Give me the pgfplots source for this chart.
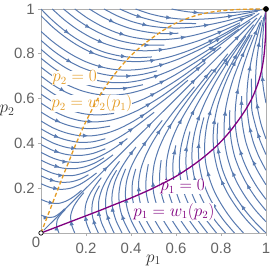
\documentclass[border=0pt]{standalone}
\usepackage{pgfplots}
\pgfplotsset{compat=1.18}
\usepackage{pgfplotstable}
\usepackage{fontspec}
\setmainfont{Liberation Sans}
\usetikzlibrary{calc,decorations.markings,arrows.meta}
\definecolor{sc}{RGB}{88,122,176}
\definecolor{oc}{RGB}{228,155,35}
\definecolor{pc}{RGB}{128,0,128}
\definecolor{tc}{RGB}{100,100,100}
\definecolor{fc}{RGB}{175,175,175}
\newcommand\tl{\fontsize{15}{17}\selectfont}
\newcommand\nlf{\fontsize{16}{18}\selectfont}

\pgfplotsset{sline/.style={color=sc, line width=1.0bp, smooth},
  sarrow/.style={color=sc, draw=none, sharp plot, postaction={decorate},
  decoration={markings, mark=between positions 0.3 and 1 step 62bp with {\arrow[sc]{Latex[length=5bp,width=4.2bp]}}}}}
\newcommand\pair[1]{\addplot[sline] table[x=a,y=b]{#1};\addplot[sline] table[x=b,y=a]{#1};%
  \addplot[sarrow] table[x=a,y=b]{#1};\addplot[sarrow] table[x=b,y=a]{#1};}

% nullcline p2 = w2(p1)  (mirror gives p1 = w1(p2))
\pgfplotstableread[row sep=\\]{a b\\ 0 0\\ 0.025 0.065\\ 0.05 0.13\\ 0.075 0.195\\ 0.1 0.26\\ 0.125 0.322\\ 0.15 0.385\\ 0.175 0.443\\ 0.2 0.498\\ 0.25 0.595\\ 0.3 0.672\\ 0.35 0.737\\ 0.4 0.792\\ 0.45 0.837\\ 0.5 0.875\\ 0.55 0.909\\ 0.6 0.937\\ 0.65 0.958\\ 0.7 0.974\\ 0.75 0.985\\ 0.8 0.992\\ 0.85 0.996\\ 0.9 0.999\\ 1 1\\}\nc

% streamlines above the diagonal (mirrored below)
\pgfplotstableread[row sep=\\]{a b\\ 0.58 1\\ 0.649 0.988\\ 0.719 0.982\\ 0.789 0.982\\ 0.859 0.985\\ 0.929 0.990\\ 0.985 0.997\\}\tA
\pgfplotstableread[row sep=\\]{a b\\ 0.42 1\\ 0.486 0.978\\ 0.554 0.963\\ 0.624 0.955\\ 0.694 0.954\\ 0.764 0.958\\ 0.833 0.967\\ 0.902 0.979\\ 0.96 0.99\\}\tB
\pgfplotstableread[row sep=\\]{a b\\ 0.35 1\\ 0.414 0.973\\ 0.481 0.953\\ 0.550 0.937\\ 0.619 0.936\\ 0.689 0.935\\}\tC
\pgfplotstableread[row sep=\\]{a b\\ 0.28 1\\ 0.342 0.968\\ 0.407 0.943\\ 0.475 0.926\\ 0.544 0.917\\ 0.614 0.915\\ 0.684 0.920\\ 0.753 0.931\\ 0.821 0.946\\ 0.889 0.964\\ 0.95 0.98\\}\tD
\pgfplotstableread[row sep=\\]{a b\\ 0.215 1\\ 0.275 0.964\\ 0.338 0.934\\ 0.404 0.911\\ 0.472 0.897\\ 0.541 0.890\\ 0.611 0.892\\}\tE
\pgfplotstableread[row sep=\\]{a b\\ 0.15 1\\ 0.207 0.959\\ 0.268 0.924\\ 0.332 0.896\\ 0.399 0.876\\ 0.468 0.865\\ 0.538 0.863\\ 0.608 0.869\\ 0.677 0.882\\ 0.745 0.900\\ 0.811 0.922\\ 0.876 0.947\\ 0.94 0.973\\}\tF
\pgfplotstableread[row sep=\\]{a b\\ 0.10 1\\ 0.155 0.956\\ 0.213 0.918\\ 0.275 0.886\\ 0.341 0.861\\ 0.409 0.846\\ 0.478 0.839\\ 0.548 0.839\\}\tG
\pgfplotstableread[row sep=\\]{a b\\ 0.05 1\\ 0.102 0.953\\ 0.158 0.911\\ 0.218 0.875\\ 0.282 0.846\\ 0.349 0.826\\ 0.418 0.815\\ 0.488 0.814\\ 0.558 0.821\\ 0.626 0.836\\ 0.693 0.856\\ 0.758 0.881\\ 0.822 0.909\\ 0.885 0.939\\}\tH
\pgfplotstableread[row sep=\\]{a b\\ 0 1\\ 0.049 0.951\\ 0.102 0.906\\ 0.159 0.866\\ 0.220 0.832\\ 0.285 0.806\\ 0.353 0.790\\ 0.423 0.783\\ 0.493 0.786\\}\tI
\pgfplotstableread[row sep=\\]{a b\\ 0 0.97\\ 0.05 0.921\\ 0.104 0.877\\ 0.162 0.838\\ 0.224 0.806\\ 0.290 0.783\\ 0.359 0.769\\ 0.429 0.765\\ 0.499 0.771\\ 0.567 0.785\\ 0.634 0.806\\ 0.699 0.832\\ 0.762 0.862\\ 0.824 0.895\\ 0.885 0.930\\}\tJ
\pgfplotstableread[row sep=\\]{a b\\ 0 0.9\\ 0.045 0.86\\ 0.093 0.824\\ 0.144 0.792\\ 0.198 0.765\\ 0.255 0.745\\ 0.313 0.732\\ 0.373 0.727\\ 0.433 0.730\\ 0.492 0.739\\ 0.55 0.755\\ 0.607 0.775\\ 0.662 0.799\\ 0.716 0.825\\ 0.769 0.854\\ 0.821 0.884\\ 0.872 0.916\\ 0.922 0.948\\ 0.97 0.98\\}\tK
\pgfplotstableread[row sep=\\]{a b\\ 0 0.86\\ 0.054 0.814\\ 0.112 0.774\\ 0.175 0.741\\ 0.241 0.717\\ 0.310 0.703\\ 0.380 0.700\\ 0.449 0.708\\ 0.516 0.724\\}\tL
\pgfplotstableread[row sep=\\]{a b\\ 0 0.82\\ 0.054 0.775\\ 0.112 0.736\\ 0.175 0.705\\ 0.241 0.683\\ 0.310 0.672\\ 0.380 0.672\\ 0.449 0.683\\ 0.516 0.702\\ 0.581 0.728\\ 0.644 0.759\\ 0.705 0.794\\ 0.764 0.831\\ 0.822 0.870\\ 0.879 0.910\\}\tM
\pgfplotstableread[row sep=\\]{a b\\ 0 0.78\\ 0.055 0.737\\ 0.114 0.699\\ 0.178 0.670\\ 0.245 0.651\\ 0.315 0.644\\ 0.385 0.648\\ 0.453 0.662\\}\tN
\pgfplotstableread[row sep=\\]{a b\\ 0 0.74\\ 0.056 0.698\\ 0.116 0.662\\ 0.181 0.635\\ 0.249 0.619\\ 0.319 0.615\\ 0.389 0.623\\ 0.457 0.641\\ 0.522 0.667\\ 0.584 0.699\\ 0.644 0.735\\ 0.703 0.773\\ 0.760 0.813\\ 0.816 0.855\\ 0.87 0.898\\ 0.93 0.945\\}\tO
\pgfplotstableread[row sep=\\]{a b\\ 0 0.70\\ 0.057 0.659\\ 0.118 0.625\\ 0.184 0.601\\ 0.252 0.588\\ 0.322 0.587\\ 0.391 0.599\\}\tP
\pgfplotstableread[row sep=\\]{a b\\ 0 0.66\\ 0.058 0.620\\ 0.120 0.588\\ 0.186 0.566\\ 0.255 0.556\\ 0.325 0.559\\ 0.393 0.574\\ 0.458 0.599\\ 0.520 0.631\\ 0.580 0.667\\ 0.638 0.706\\ 0.694 0.747\\ 0.749 0.790\\ 0.80 0.83\\}\tQ
\pgfplotstableread[row sep=\\]{a b\\ 0 0.62\\ 0.058 0.582\\ 0.12 0.552\\ 0.186 0.533\\ 0.255 0.527\\ 0.325 0.534\\}\tR
\pgfplotstableread[row sep=\\]{a b\\ 0 0.58\\ 0.055 0.545\\ 0.114 0.518\\ 0.177 0.501\\ 0.242 0.496\\ 0.307 0.503\\ 0.369 0.521\\ 0.429 0.547\\ 0.486 0.579\\ 0.541 0.614\\ 0.606 0.661\\ 0.669 0.710\\ 0.731 0.761\\}\tS
\pgfplotstableread[row sep=\\]{a b\\ 0 0.54\\ 0.055 0.507\\ 0.114 0.483\\ 0.177 0.468\\ 0.242 0.467\\ 0.307 0.477\\}\tT
\pgfplotstableread[row sep=\\]{a b\\ 0 0.5\\ 0.052 0.470\\ 0.108 0.448\\ 0.167 0.435\\ 0.227 0.434\\ 0.286 0.444\\ 0.343 0.464\\ 0.397 0.491\\ 0.448 0.522\\ 0.497 0.556\\ 0.545 0.592\\ 0.592 0.630\\ 0.653 0.682\\}\tU
\pgfplotstableread[row sep=\\]{a b\\ 0 0.465\\ 0.053 0.436\\ 0.11 0.416\\ 0.169 0.405\\ 0.229 0.407\\ 0.286 0.421\\}\tV
\pgfplotstableread[row sep=\\]{a b\\ 0 0.43\\ 0.053 0.402\\ 0.110 0.383\\ 0.169 0.375\\ 0.229 0.380\\ 0.286 0.397\\ 0.340 0.423\\ 0.391 0.455\\ 0.440 0.490\\ 0.503 0.539\\}\tW
\pgfplotstableread[row sep=\\]{a b\\ 0 0.395\\ 0.054 0.368\\ 0.111 0.351\\ 0.171 0.346\\ 0.230 0.355\\ 0.286 0.376\\}\tX
\pgfplotstableread[row sep=\\]{a b\\ 0 0.36\\ 0.054 0.334\\ 0.112 0.318\\ 0.172 0.316\\ 0.230 0.329\\ 0.285 0.354\\ 0.336 0.386\\ 0.384 0.422\\}\tY
\pgfplotstableread[row sep=\\]{a b\\ 0 0.325\\ 0.046 0.304\\ 0.095 0.29\\ 0.145 0.287\\ 0.193 0.295\\ 0.238 0.312\\ 0.28 0.336\\}\tZ
\pgfplotstableread[row sep=\\]{a b\\ 0 0.29\\ 0.046 0.269\\ 0.095 0.257\\ 0.145 0.257\\ 0.193 0.270\\ 0.238 0.292\\ 0.280 0.319\\ 0.320 0.349\\}\tAa
\pgfplotstableread[row sep=\\]{a b\\ 0 0.255\\ 0.042 0.237\\ 0.086 0.227\\ 0.131 0.228\\ 0.173 0.24\\ 0.211 0.26\\}\tAb
\pgfplotstableread[row sep=\\]{a b\\ 0 0.22\\ 0.042 0.203\\ 0.086 0.195\\ 0.131 0.200\\ 0.173 0.217\\ 0.211 0.241\\ 0.247 0.268\\}\tAc
\pgfplotstableread[row sep=\\]{a b\\ 0 0.15\\ 0.037 0.136\\ 0.077 0.132\\ 0.115 0.144\\ 0.149 0.165\\ 0.180 0.190\\}\tAe
\pgfplotstableread[row sep=\\]{a b\\ 0 0.08\\ 0.028 0.070\\ 0.058 0.072\\ 0.083 0.088\\ 0.105 0.108\\}\tAg

\begin{document}
\begin{tikzpicture}
\begin{axis}[name=ax, scale only axis, width=225bp, height=224bp,
  xmin=0, xmax=1, ymin=0, ymax=1,
  xtick={0.2,0.4,0.6,0.8,1}, ytick={0.2,0.4,0.6,0.8,1},
  xticklabels={}, yticklabels={},
  tick align=outside, xtick pos=left, ytick pos=left, major tick length=3bp,
  tick style={fc, line width=0.7bp}, axis line style={fc, line width=0.8bp}]
\pair{\tA}\pair{\tB}\pair{\tC}\pair{\tD}\pair{\tE}\pair{\tF}\pair{\tG}\pair{\tH}\pair{\tI}
\pair{\tJ}\pair{\tK}\pair{\tL}\pair{\tM}\pair{\tN}\pair{\tO}\pair{\tP}\pair{\tQ}\pair{\tR}
\pair{\tS}\pair{\tT}\pair{\tU}\pair{\tV}\pair{\tW}\pair{\tX}\pair{\tY}\pair{\tZ}
\pair{\tAa}\pair{\tAb}\pair{\tAc}\pair{\tAe}\pair{\tAg}
\addplot[sline] coordinates {(0.012,0.012) (0.5,0.5) (0.96,0.96)};
\addplot[sarrow] coordinates {(0.012,0.012) (0.5,0.5) (0.96,0.96)};
\node[anchor=west, text=oc, fill=white, inner sep=0bp, font=\nlf] at (axis cs:0.05,0.692) {$\dot{p}_2=0$};
\node[anchor=west, text=oc, fill=white, inner sep=0bp, font=\nlf] at (axis cs:0.045,0.578) {$p_2=w_2(p_1)$};
\node[anchor=west, text=pc, fill=white, inner sep=0bp, font=\nlf] at (axis cs:0.53,0.206) {$\dot{p}_1=0$};
\node[anchor=west, text=pc, fill=white, inner sep=0bp, font=\nlf] at (axis cs:0.41,0.094) {$p_1=w_1(p_2)$};
\addplot[oc, line width=1.3bp, dash pattern=on 4bp off 2.5bp, smooth] table[x=a,y=b]{\nc};
\addplot[pc, line width=1.3bp, smooth] table[x=b,y=a]{\nc};
\addplot[only marks, mark=*, mark size=2.2bp, mark options={fill=white, draw=black, line width=0.7bp}] coordinates {(0,0)};
\addplot[only marks, mark=*, mark size=2.6bp, black] coordinates {(1,1)};
\end{axis}
\foreach \v in {0.2,0.4,0.6,0.8} {
  \node[font=\tl, text=tc, inner sep=0] at ($(ax.south west)!\v!(ax.south east)+(0,-15bp)$) {\v};
  \node[font=\tl, text=tc, inner sep=0, anchor=east] at ($(ax.south west)!\v!(ax.north west)+(-6bp,0)$) {\v};
}
\node[font=\tl, text=tc, inner sep=0] at ($(ax.south east)+(0,-15bp)$) {1};
\node[font=\tl, text=tc, inner sep=0, anchor=east] at ($(ax.north west)+(-6bp,0)$) {1};
\node[font=\tl, text=tc, inner sep=0] at ($(ax.south west)+(-5bp,-9bp)$) {0};
\node[font=\fontsize{17}{19}\selectfont, text=black!80, inner sep=0] at ($(ax.south west)!0.5!(ax.south east)+(0,-27bp)$) {$p_1$};
\node[font=\fontsize{17}{19}\selectfont, text=black!80, inner sep=0] at ($(ax.south west)!0.545!(ax.north west)+(-34bp,0)$) {$p_2$};
\pgfresetboundingbox
\path ([xshift=-41bp,yshift=-39bp]ax.south west) rectangle ([xshift=4bp,yshift=9bp]ax.north east);
\end{tikzpicture}
\end{document}
